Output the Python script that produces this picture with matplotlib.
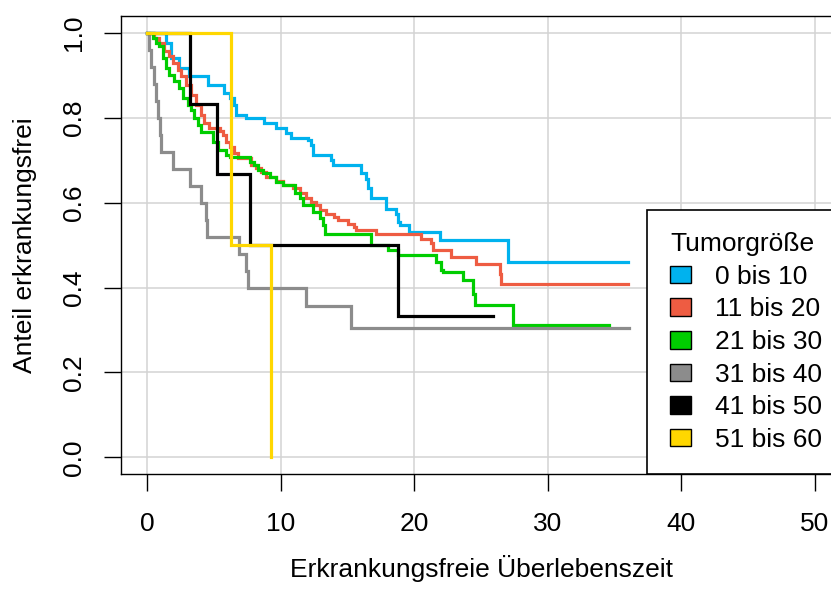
import matplotlib
matplotlib.use("Agg")
import matplotlib.pyplot as plt
from matplotlib.patches import Patch

plt.rcParams['font.family'] = ['Liberation Sans', 'DejaVu Sans']

# Kaplan-Meier Schätzer je Tumorgrößen-Gruppe (Zeitpunkte und Anteil nach dem Schritt)
groups = ['0 bis 10', '11 bis 20', '21 bis 30', '31 bis 40', '41 bis 50', '51 bis 60']
colors = ['#00B2EE', '#EE5C42', '#00CD00', '#8C8C8C', '#000000', '#FFD700']

t_0_10 = [0, 1.4, 1.77, 2.4, 3.15, 4.52, 5.77, 6.15, 6.52, 6.65, 7.4, 8.77, 9.65,
          10.4, 10.77, 12.0, 12.27, 12.4, 13.77, 13.9, 16.0, 16.4, 16.5, 16.77,
          17.9, 18.6, 18.77, 18.9, 19.6, 21.9, 27.0, 36.0]
s_0_10 = [1.0, 0.976, 0.941, 0.917, 0.898, 0.878, 0.858, 0.846, 0.830, 0.807, 0.799,
          0.787, 0.775, 0.764, 0.752, 0.748, 0.736, 0.713, 0.701, 0.689, 0.669,
          0.657, 0.634, 0.610, 0.586, 0.574, 0.555, 0.547, 0.531, 0.511, 0.460, 0.460]

t_11_20 = [0, 0.52, 0.9, 1.27, 1.65, 1.9, 2.27, 2.52, 2.9, 3.27, 3.65, 4.0, 4.27,
           4.65, 5.4, 5.65, 5.9, 6.15, 6.52, 6.77, 7.77, 8.15, 8.52, 8.9, 9.65,
           10.15, 10.9, 11.4, 11.9, 12.27, 12.65, 12.9, 13.4, 14.0, 14.27, 15.0,
           15.5, 15.65, 17.15, 20.5, 21.27, 21.4, 22.77, 24.6, 26.4, 26.5, 36.0]
s_11_20 = [1.0, 0.988, 0.976, 0.957, 0.945, 0.929, 0.913, 0.898, 0.878, 0.854, 0.831,
           0.807, 0.787, 0.775, 0.768, 0.760, 0.744, 0.732, 0.716, 0.706, 0.690,
           0.681, 0.673, 0.661, 0.652, 0.642, 0.634, 0.622, 0.610, 0.602, 0.594,
           0.583, 0.574, 0.567, 0.559, 0.551, 0.543, 0.535, 0.527, 0.515, 0.505,
           0.488, 0.472, 0.455, 0.433, 0.409, 0.409]

t_21_30 = [0, 0.4, 0.65, 0.9, 1.15, 1.4, 1.65, 2.02, 2.4, 2.65, 3.02, 3.27, 3.52,
           3.77, 4.02, 4.9, 5.27, 5.9, 6.15, 7.65, 8.02, 8.27, 8.65, 9.15, 9.65,
           10.15, 11.02, 11.4, 11.65, 12.4, 12.9, 13.15, 13.27, 16.77, 18.02,
           18.77, 21.65, 22.0, 22.15, 23.65, 24.4, 24.5, 27.4, 34.6]
s_21_30 = [1.0, 0.988, 0.976, 0.969, 0.941, 0.917, 0.901, 0.886, 0.870, 0.846, 0.831,
           0.819, 0.799, 0.783, 0.766, 0.744, 0.724, 0.713, 0.708, 0.697, 0.689,
           0.677, 0.669, 0.661, 0.649, 0.641, 0.624, 0.610, 0.594, 0.578, 0.563,
           0.547, 0.527, 0.500, 0.488, 0.476, 0.460, 0.441, 0.436, 0.417, 0.385,
           0.358, 0.313, 0.313]

t_31_40 = [0, 0.15, 0.27, 0.52, 0.65, 0.8, 0.95, 1.02, 1.95, 3.2, 4.05, 4.4, 4.5,
           6.85, 7.35, 7.5, 11.9, 15.27, 36.1]
s_31_40 = [1.0, 0.96, 0.92, 0.88, 0.84, 0.80, 0.76, 0.72, 0.68, 0.64, 0.60, 0.56,
           0.52, 0.48, 0.44, 0.40, 0.356, 0.305, 0.305]

t_41_50 = [0, 3.2, 5.2, 7.7, 18.8, 25.9]
s_41_50 = [1.0, 0.833, 0.667, 0.5, 0.333, 0.333]

t_51_60 = [0, 6.27, 9.27]
s_51_60 = [1.0, 0.5, 0.0]

times = [t_0_10, t_11_20, t_21_30, t_31_40, t_41_50, t_51_60]
surv = [s_0_10, s_11_20, s_21_30, s_31_40, s_41_50, s_51_60]

fs = 19

fig = plt.figure(figsize=(8.31, 5.90), dpi=100)
# Plotbereich reicht rechts etwas über den Bildrand hinaus
ax = fig.add_axes([120.7 / 831, 1 - 474.3 / 590, 721 / 831, 458.3 / 590])

ax.set_xlim(-2, 52)
ax.set_ylim(-0.04, 1.04)
ax.set_xticks([0, 10, 20, 30, 40, 50])
ax.set_yticks([0.0, 0.2, 0.4, 0.6, 0.8, 1.0])
ax.set_yticklabels(['0.0', '0.2', '0.4', '0.6', '0.8', '1.0'])
ax.grid(True, color='#D3D3D3', linewidth=1.1)
ax.set_axisbelow(True)

for t, s, c in zip(times, surv, colors):
    ax.step(t, s, where='post', color=c, linewidth=2.3, solid_joinstyle='miter')

for sp in ax.spines.values():
    sp.set_linewidth(1.0)
ax.tick_params(axis='both', direction='out', length=12, width=1.0,
               labelsize=fs, colors='black')
ax.tick_params(axis='x', pad=15)
ax.tick_params(axis='y', pad=13, labelrotation=90)
for lab in ax.get_yticklabels():
    lab.set_va('center')

ax.set_xlabel('Erkrankungsfreie Überlebenszeit', fontsize=fs, labelpad=14)
ax.set_ylabel('Anteil erkrankungsfrei', fontsize=fs, labelpad=18)

handles = [Patch(facecolor=c, edgecolor='black', linewidth=1.0) for c in colors]
leg = ax.legend(handles, groups, title='Tumorgröße', loc='lower right',
                bbox_to_anchor=(1.004, 0), borderaxespad=0, fancybox=False,
                framealpha=1, edgecolor='black', fontsize=fs,
                title_fontsize=fs, alignment='left', handlelength=0.8,
                handleheight=0.65, handletextpad=0.91, borderpad=0.85,
                labelspacing=0.326)
leg.get_frame().set_linewidth(1.2)

fig.savefig('out.png', dpi=100)
